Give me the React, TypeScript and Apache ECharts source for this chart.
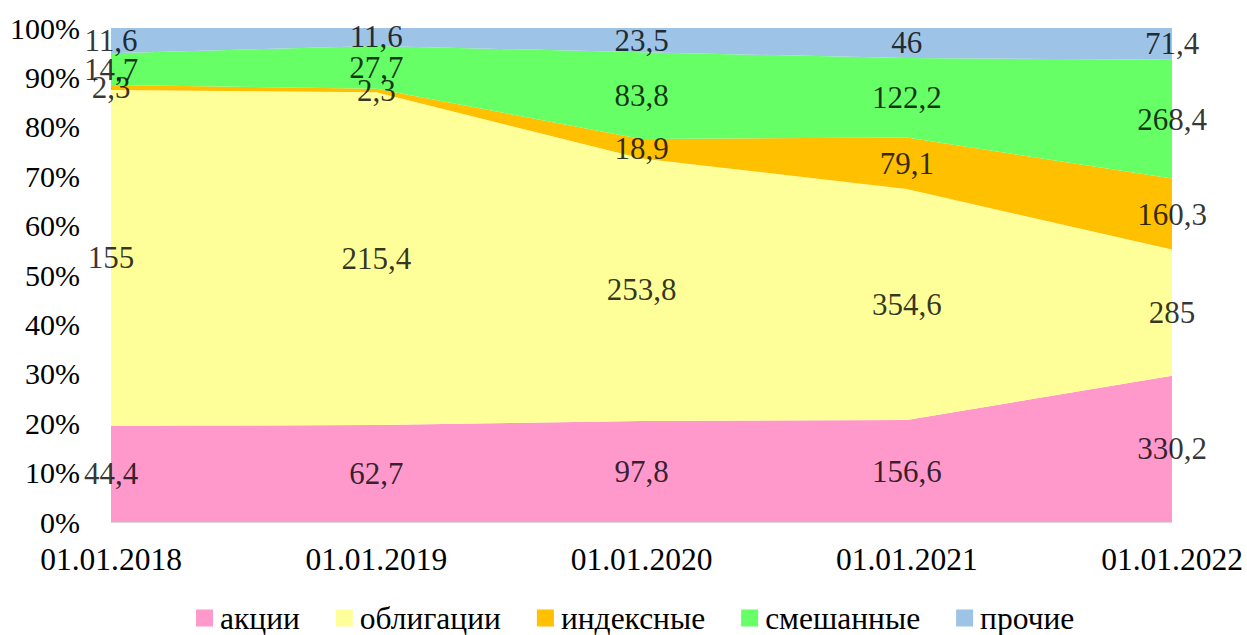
import React, { useEffect, useRef } from "react";
import * as echarts from "echarts";

const categories = ["01.01.2018", "01.01.2019", "01.01.2020", "01.01.2021", "01.01.2022"];
const seriesNames = ["акции", "облигации", "индексные", "смешанные", "прочие"];
const aktsii = [44.4, 62.7, 97.8, 156.6, 330.2];
const obligatsii = [155, 215.4, 253.8, 354.6, 285];
const indeksnye = [2.3, 2.3, 18.9, 79.1, 160.3];
const smeshannye = [14.7, 27.7, 83.8, 122.2, 268.4];
const prochie = [11.6, 11.6, 23.5, 46, 71.4];
const colors = ["#FF99CC", "#FFFF99", "#FFC000", "#66FF66", "#9DC3E6"];

const FONT = "Liberation Serif";

export default function App() {
  const ref = useRef<HTMLDivElement>(null);
  useEffect(() => {
    if (!ref.current) return;
    const chart = echarts.init(ref.current, null, { renderer: "svg" });
    const raw = [aktsii, obligatsii, indeksnye, smeshannye, prochie];
    const totals = categories.map((_, j) => raw.reduce((s, arr) => s + arr[j], 0));
    const pct = raw.map((arr) => arr.map((v, j) => (v / totals[j]) * 100));

    const areaSeries = pct.map((arr, i) => ({
      name: seriesNames[i],
      type: "line",
      stack: "total",
      data: arr,
      symbol: "none",
      lineStyle: { width: 0 },
      areaStyle: { color: colors[i], opacity: 1 },
      itemStyle: { color: colors[i] },
      emphasis: { disabled: true },
    }));

    const labelSeries = pct.map((arr, i) => ({
      name: "lbl_" + i,
      type: "scatter",
      symbolSize: 0,
      clip: false,
      data: arr.map((p, j) => {
        let below = 0;
        for (let k = 0; k < i; k++) below += pct[k][j];
        return { value: [j, below + p / 2], raw: raw[i][j] };
      }),
      label: {
        show: true,
        position: "inside",
        color: "#000",
        fontFamily: FONT,
        fontSize: 31,
        formatter: (p: any) => String(p.data.raw).replace(".", ","),
      },
      emphasis: { disabled: true },
      z: 10,
    }));

    chart.setOption({
      animation: false,
      color: colors,
      textStyle: { fontFamily: FONT },
      grid: { left: 111, right: 75, top: 28, bottom: 113 },
      legend: {
        data: seriesNames,
        left: 196,
        top: 602,
        padding: 0,
        itemWidth: 17,
        itemHeight: 17,
        itemGap: 36,
        icon: "rect",
        textStyle: { fontFamily: FONT, fontSize: 31.5, lineHeight: 30, color: "#000", padding: [0, 0, 0, 2] },
      },
      xAxis: {
        type: "category",
        data: categories,
        boundaryGap: false,
        axisLine: { show: true, lineStyle: { color: "#D9D9D9", width: 1 } },
        axisTick: { show: false },
        axisLabel: { fontFamily: FONT, fontSize: 31.5, color: "#000", margin: 21 },
        splitLine: { show: false },
      },
      yAxis: {
        type: "value",
        min: 0,
        max: 100,
        interval: 10,
        axisLine: { show: false },
        axisTick: { show: false },
        splitLine: { show: false },
        axisLabel: {
          fontFamily: FONT,
          fontSize: 30,
          color: "#000",
          margin: 31,
          formatter: (v: number) => v + "%",
        },
      },
      series: [...areaSeries, ...labelSeries],
    });
    return () => chart.dispose();
  }, []);
  return (
    <div
      ref={ref}
      style={{ position: "absolute", left: 0, top: 0, width: 1247, height: 635, background: "#fff" }}
    />
  );
}
